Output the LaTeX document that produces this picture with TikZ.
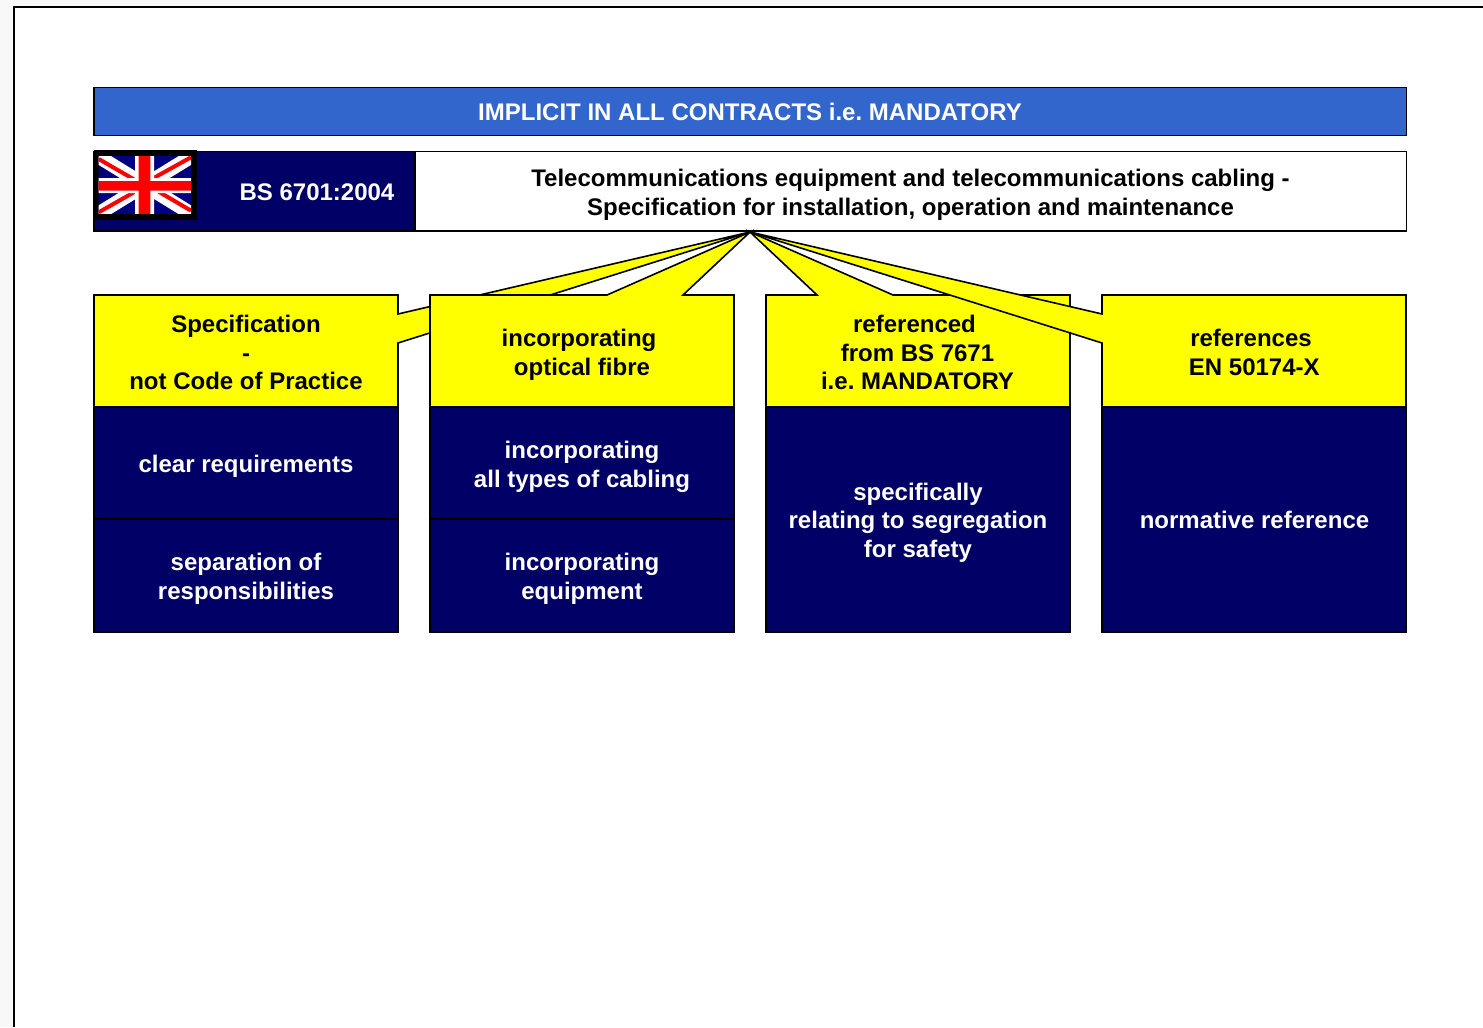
\documentclass[tikz,border=0pt]{standalone}
\usepackage{fontspec}
\setmainfont{Liberation Sans}
\definecolor{navy}{HTML}{000066}
\definecolor{hdr}{HTML}{3366CC}
\definecolor{yel}{HTML}{FFFF00}
\definecolor{flagblue}{HTML}{000080}
\definecolor{flagred}{HTML}{FF0000}
\definecolor{outside}{HTML}{F8F8F8}
\tikzset{
  x=0.75pt,y=-0.75pt,
  lbl/.style={font=\bfseries\fontsize{18}{21.5}\selectfont\frenchspacing,align=center,inner sep=0pt},
  wlbl/.style={lbl,text=white},
  panel/.style={draw=black,line width=1.2pt,inner sep=0pt,outer sep=0pt,anchor=north west},
  navybox/.style={panel,fill=navy,minimum width=228pt},
  callout/.style={draw=black,line width=1.2pt,fill=yel,line join=miter},
}
\begin{document}
\begin{tikzpicture}
\useasboundingbox (0,0) rectangle (1483,1027);
% page surround and frame
\fill[outside] (0,0) rectangle (1483,1027);
\fill[white] (14,7) rectangle (1483,1027);
\draw[line width=1.4pt,black] (14,1027) -- (14,7) -- (1483,7);
% banner
\node[panel,fill=hdr,minimum width=984.5pt,minimum height=36pt] (banner) at (94,87.5) {};
\node[wlbl] (bannertext) at (750,112) {IMPLICIT IN ALL CONTRACTS i.e. MANDATORY};
% standard row
\node[panel,fill=navy,minimum width=240.75pt,minimum height=59.6pt] (code) at (94,151.7) {};
\node[panel,fill=white,minimum width=743.75pt,minimum height=59.6pt] (title) at (415,151.7) {};
\node[lbl] (titletext) at (910.5,195) {Telecommunications equipment and telecommunications cabling -\\Specification for installation, operation and maintenance};
\node[wlbl] (codetext) at (317,192) {BS 6701:2004};
% flag
\fill[black] (93.5,150.5) rectangle (196.5,219.5);
\begin{scope}
\clip (98.7,156.7) rectangle (191,213.5);
\fill[flagblue] (98,156) rectangle (192,214);
\draw[white,line width=10.5pt] (98.7,156.7) -- (191,213.5) (98.7,213.5) -- (191,156.7);
\draw[flagred,line width=3pt] (98.7,159) -- (135,180) (191,157.3) -- (153.7,178) (98.7,212.3) -- (135,191.7) (191,210.7) -- (158.7,191.7);
\fill[white] (135,156) rectangle (154,214) (98,178) rectangle (192,193);
\fill[flagred] (138.7,156) rectangle (150.3,214) (98,181) rectangle (192,190.5);
\end{scope}
% callouts
\coordinate (tip) at (750,232);
\draw[callout] (94,295) -- (398,295) -- (398,314) -- (tip) -- (398,343) -- (398,407) -- (94,407) -- cycle;
\draw[callout] (430,295) -- (607,295) -- (tip) -- (683,295) -- (734,295) -- (734,407) -- (430,407) -- cycle;
\draw[callout] (766,295) -- (817,295) -- (tip) -- (893,295) -- (1070,295) -- (1070,407) -- (766,407) -- cycle;
\draw[callout] (1102,295) -- (1406,295) -- (1406,407) -- (1102,407) -- (1102,343) -- (tip) -- (1102,314) -- cycle;
\node[lbl] (c1) at (246,352.5) {Specification\\-\\not Code of Practice};
\node[lbl] (c2) at (579,355) {incorporating\\\kern4.5pt optical fibre};
\node[lbl] (c3) at (917.5,352.5) {referenced\hspace*{4.5pt}\\from BS 7671\\i.e. MANDATORY};
\node[lbl] (c4) at (1251,352.5) {references\\\kern5pt EN 50174-X};
% navy panels
\node[navybox,minimum height=84pt] (a1) at (94,407) {};
\node[navybox,minimum height=84.6pt] (a2) at (94,519) {};
\node[navybox,minimum height=84pt] (b1) at (430,407) {};
\node[navybox,minimum height=84.6pt] (b2) at (430,519) {};
\node[navybox,minimum height=168.6pt] (d) at (766,407) {};
\node[navybox,minimum height=168.6pt] (e) at (1102,407) {};
\node[wlbl] (a1t) at (246,466) {clear requirements};
\node[wlbl] (a2t) at (246,579) {separation of\\responsibilities};
\node[wlbl] (b1t) at (582,467) {incorporating\\all types of cabling};
\node[wlbl] (b2t) at (582,579) {incorporating\\equipment};
\node[wlbl] (dt) at (918,522.5) {specifically\\relating to segregation\\for safety};
\node[wlbl] (et) at (1254.5,520) {normative reference};
\end{tikzpicture}
\end{document}
